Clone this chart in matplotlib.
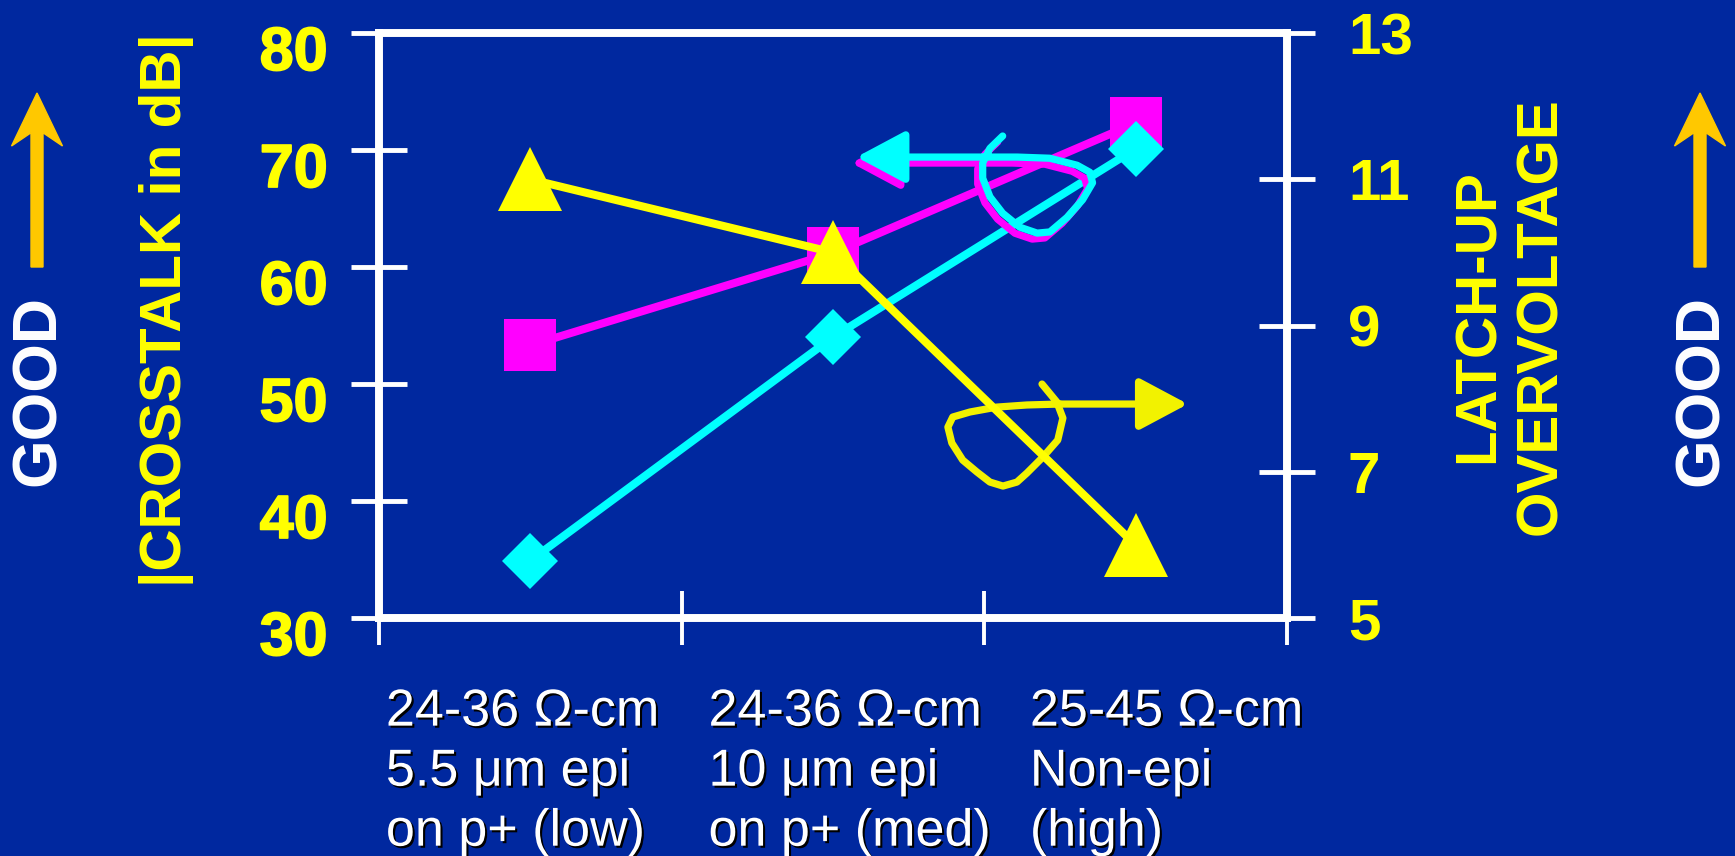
import numpy as np
import matplotlib
matplotlib.use("Agg")
import matplotlib.pyplot as plt
import matplotlib.patheffects as pe
from matplotlib.patches import FancyArrow
from matplotlib.transforms import ScaledTranslation

plt.rcParams['font.family'] = ['Liberation Sans', 'DejaVu Sans']
plt.rcParams['font.weight'] = 'bold'

# substrate options on the x axis
categories = ["24-36 \u03a9-cm\n5.5 \u03bcm epi\non p+ (low)",
              "24-36 \u03a9-cm\n10 \u03bcm epi\non p+ (med)",
              "25-45 \u03a9-cm\nNon-epi\n(high)"]
crosstalk_sq = [53.3, 61.2, 72.3]    # |crosstalk| dB, magenta squares
crosstalk_dia = [34.9, 54.0, 70.1]   # |crosstalk| dB, cyan diamonds
latchup = [11.0, 10.0, 6.0]          # latch-up overvoltage, yellow triangles
left_ticks = [30, 40, 50, 60, 70, 80]
right_ticks = [5, 7, 9, 11, 13]

# hand drawn loops with arrows (x in category units, y in dB)
xtalk_loop_x = [2.061, 2.019, 1.995, 1.995, 2.019, 2.061, 2.118, 2.175, 2.217,
                2.274, 2.325, 2.358, 2.349, 2.307, 2.217, 2.109, 1.995, 1.578]
xtalk_loop_y = [71.2, 70.15, 68.9, 67.6, 66.0, 64.6, 63.4, 62.9, 63.0,
                64.25, 65.75, 67.2, 68.1, 68.7, 69.3, 69.4, 69.4, 69.4]
latch_loop_x = [2.191, 2.240, 2.260, 2.243, 2.194, 2.141, 2.108, 2.062, 2.019, 1.976,
                1.929, 1.893, 1.880, 1.896, 1.953, 2.042, 2.141, 2.250, 2.673]
latch_loop_y = [50.0, 48.46, 47.09, 45.21, 43.76, 42.39, 41.62, 41.28, 41.62, 42.48,
                43.50, 44.96, 46.32, 47.18, 47.61, 48.03, 48.21, 48.29, 48.29]

bg = '#00289F'
yel = '#FFFF00'

fig = plt.figure(figsize=(17.35, 8.56), dpi=100, facecolor=bg)
ax = fig.add_axes([0.2184, 0.2780, 0.5233, 0.6834])
ax.set_facecolor(bg)
ax2 = ax.twinx()

x = np.arange(len(categories)) + 0.5
ax.plot(x, crosstalk_sq, color='#FF00FF', lw=5.8, marker='s', ms=38, mew=0, zorder=3)
ax.plot(x, crosstalk_dia, color='#00FFFF', lw=5.8, marker='D', ms=29, mew=0, zorder=4)
ax2.plot(x, latchup, color=yel, lw=5.8, marker='^', ms=46, mew=0)


def loop(xs, ys, col, z, shift=None):
    trans = ax.transData if shift is None else ax.transData + shift
    ax.plot(xs[:-1], ys[:-1], color=col, lw=5.2, solid_joinstyle='round',
            solid_capstyle='round', transform=trans, zorder=z)
    ax.annotate('', xy=(xs[-1], ys[-1]), xytext=(xs[-2], ys[-2]),
                xycoords=trans, textcoords=trans, zorder=z,
                arrowprops=dict(arrowstyle='-|>,head_length=1.5,head_width=0.8',
                                mutation_scale=20, lw=5.2, color=col,
                                shrinkA=0, shrinkB=0))


offset = ScaledTranslation(-0.05, -0.06, fig.dpi_scale_trans)
loop(xtalk_loop_x, xtalk_loop_y, '#FF00FF', 5, offset)
loop(xtalk_loop_x, xtalk_loop_y, '#00FFFF', 6)
loop(latch_loop_x, latch_loop_y, '#F2F200', 6)

ax.set_xlim(0, 3)
ax.set_ylim(30, 80)
ax2.set_ylim(5, 13)
ax.set_xticks([0, 1, 2, 3])
ax.set_yticks(left_ticks)
ax2.set_yticks(right_ticks)

for a in (ax, ax2):
    for s in a.spines.values():
        s.set_color('white')
        s.set_linewidth(5.5)

ax.tick_params(axis='x', direction='inout', length=39, width=2.8, color='white',
               labelbottom=False)
ax.tick_params(axis='y', direction='inout', length=40, width=3.5, color='white',
               labelcolor=yel, labelsize=44, pad=17)
ax2.tick_params(axis='y', direction='inout', length=40, width=3.5, color='white',
                labelcolor=yel, labelsize=42, pad=24)

# left labels sit a bit below their ticks
for lab in ax.get_yticklabels():
    lab.set_transform(lab.get_transform() + ScaledTranslation(0, -0.15, fig.dpi_scale_trans))
    lab.set_path_effects([pe.withStroke(linewidth=1.2, foreground=yel)])

shadow = [pe.withSimplePatchShadow(offset=(1.5, -1.5), shadow_rgbFace='black', alpha=1)]
label_x = [0.0077, 0.363, 0.717]
for i, cat in enumerate(categories):
    ax.text(label_x[i], -0.119, cat, transform=ax.transAxes, ha='left', va='top',
            color='white', fontsize=37.5, fontweight='normal', linespacing=1.29,
            path_effects=shadow)

fig.text(166 / 1735, 1 - 310 / 856, '|CROSSTALK in dB|', rotation=90, ha='center',
         va='center', color=yel, fontsize=42)
fig.text(1510 / 1735, 1 - 316 / 856, 'LATCH-UP\nOVERVOLTAGE', rotation=90, ha='center',
         va='center', multialignment='center', color=yel, fontsize=42, linespacing=1.2)
for gx in (38, 1701):
    fig.text(gx / 1735, 1 - 390 / 856, 'GOOD', rotation=90, ha='center', va='center',
             color='white', fontsize=45)

for axx in (0.37, 17.00):
    fig.add_artist(FancyArrow(axx, 5.89, 0, 1.74, width=0.12, head_width=0.51,
                              head_length=0.53, overhang=0.25, length_includes_head=True,
                              color='#FFC800', transform=fig.dpi_scale_trans))

fig.savefig('out.png', dpi=100, facecolor=bg)
